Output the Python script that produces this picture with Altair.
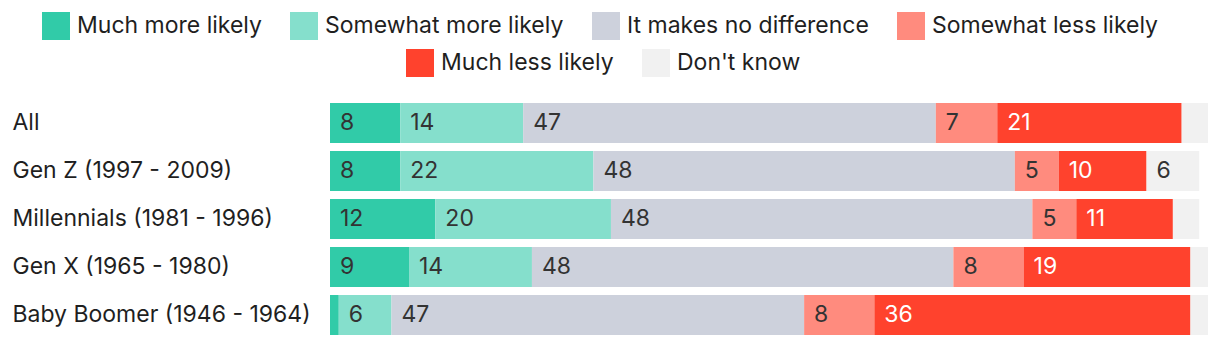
import altair as alt
import pandas as pd

groups = ["All", "Gen Z (1997 - 2009)", "Millennials (1981 - 1996)",
          "Gen X (1965 - 1980)", "Baby Boomer (1946 - 1964)"]
categories = ["Much more likely", "Somewhat more likely", "It makes no difference",
              "Somewhat less likely", "Much less likely", "Don't know"]
colors = ["#31CBA8", "#85DFCC", "#CDD1DC", "#FF8B7E", "#FF422D", "#F1F1F1"]

much_more = [8, 8, 12, 9, 1]
somewhat_more = [14, 22, 20, 14, 6]
no_difference = [47, 48, 48, 48, 47]
somewhat_less = [7, 5, 5, 8, 8]
much_less = [21, 10, 11, 19, 36]
dont_know = [3, 6, 3, 2, 2]

series = [much_more, somewhat_more, no_difference, somewhat_less, much_less, dont_know]
rows = []
for ci, (cat, vals) in enumerate(zip(categories, series)):
    for gi, g in enumerate(groups):
        rows.append({"group": g, "category": cat, "order": ci, "value": vals[gi]})
df = pd.DataFrame(rows)

FONT = "Inter"
FS = 23

base = alt.Chart(df).transform_stack(
    stack="value", groupby=["group"], as_=["x0", "x1"],
    sort=[alt.SortField("order", order="ascending")]
)

yenc = alt.Y("group:N", sort=groups, title=None,
             scale=alt.Scale(paddingInner=0.167, paddingOuter=0.083),
             axis=alt.Axis(ticks=False, tickSize=0, domain=False, labelAlign="left",
                           labelPadding=318, labelLimit=330, labelFontSize=FS,
                           labelColor="#1f1f1f", labelFont=FONT))
xscale = alt.Scale(domain=[0, 100], nice=False, zero=True)

first4 = categories[:4]
last2 = categories[4:]

bars1 = base.transform_filter(alt.FieldOneOfPredicate(field="category", oneOf=first4)).mark_bar().encode(
    y=yenc,
    x=alt.X("x0:Q", scale=xscale, axis=None),
    x2="x1:Q",
    color=alt.Color("category:N", sort=first4,
                    scale=alt.Scale(domain=first4, range=colors[:4]),
                    legend=alt.Legend(title=None, orient="none", direction="horizontal",
                                      legendX=-288, legendY=-87)),
)
bars2 = base.transform_filter(alt.FieldOneOfPredicate(field="category", oneOf=last2)).mark_bar().encode(
    y=yenc,
    x=alt.X("x0:Q", scale=xscale, axis=None),
    x2="x1:Q",
    color=alt.Color("category:N", sort=last2,
                    scale=alt.Scale(domain=last2, range=colors[4:]),
                    legend=alt.Legend(title=None, orient="none", direction="horizontal",
                                      legendX=76, legendY=-50)),
)

labels = base.transform_filter(alt.datum.value >= 4).mark_text(
    align="left", baseline="middle", dx=10, fontSize=FS, font=FONT
).encode(
    y=yenc,
    x=alt.X("x0:Q", scale=xscale, axis=None),
    text="value:Q",
    color=alt.condition(alt.datum.category == "Much less likely",
                        alt.value("#ffffff"), alt.value("#333333")),
)

chart = alt.layer(bars1, bars2, labels).resolve_scale(color="independent").properties(
    width=878, height=240,
    background="white",
    autosize=alt.AutoSizeParams(type="none"),
    padding={"left": 330, "top": 99, "right": 12, "bottom": 7},
).configure_view(stroke=None).configure_legend(
    symbolType="square", symbolSize=784, symbolStrokeWidth=0, labelFontSize=FS,
    labelFont=FONT, labelColor="#1f1f1f", labelOffset=7, columnPadding=28,
    labelLimit=400, padding=0,
)

chart.save("out.html", embed_options={"renderer": "svg", "actions": False})
